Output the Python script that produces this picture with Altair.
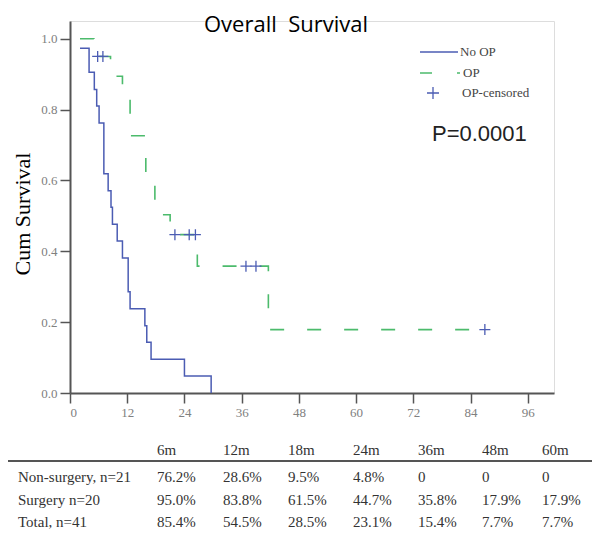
import altair as alt
import pandas as pd

# ---- data ----
noop_t = [2.1, 4.0, 5.1, 5.6, 6.1, 7.1, 8.0, 8.6, 8.9, 9.9, 11.0, 12.2, 12.6, 15.7, 16.1, 17.0, 24.0, 29.6]
noop_s = [0.973, 0.905, 0.857, 0.810, 0.762, 0.619, 0.571, 0.524, 0.476, 0.429, 0.381, 0.286, 0.238, 0.190, 0.143, 0.095, 0.048, 0.0]

op_t = [2.1, 5.0, 8.5, 11.0, 12.6, 15.9, 17.8, 21.0, 26.7, 41.6, 87.0]
op_s = [1.0, 0.95, 0.894, 0.838, 0.726, 0.615, 0.503, 0.447, 0.358, 0.179, 0.179]

cens_t = [5.8, 6.9, 22.0, 25.0, 26.3, 36.9, 39.0, 87.0]
cens_s = [0.95, 0.95, 0.447, 0.447, 0.447, 0.358, 0.358, 0.179]

x_ticks = [0, 12, 24, 36, 48, 60, 72, 84, 96]
y_ticks = [0.0, 0.2, 0.4, 0.6, 0.8, 1.0]

table_header = ["6m", "12m", "18m", "24m", "36m", "48m", "60m"]
table_rows = ["Non-surgery, n=21", "Surgery n=20", "Total, n=41"]
row_nonsurg = ["76.2%", "28.6%", "9.5%", "4.8%", "0", "0", "0"]
row_surg = ["95.0%", "83.8%", "61.5%", "44.7%", "35.8%", "17.9%", "17.9%"]
row_total = ["85.4%", "54.5%", "28.5%", "23.1%", "15.4%", "7.7%", "7.7%"]

BLUE = "#4b5cb3"
GREEN = "#4cbb6c"

# ---- layout (pixel offsets relative to plot origin) ----
W, H = 484, 372
col_x = [87, 153, 218, 283, 348, 412, 472]
label_x = -52
header_y, line_y = 429, 440
row_y = [456, 479, 501]

noop = pd.DataFrame({"t": noop_t, "s": noop_s})
op = pd.DataFrame({"t": op_t, "s": op_s})
cens = pd.DataFrame({"t": cens_t, "s": cens_s})

xscale = alt.Scale(domain=[0, 101.5], nice=False, zero=False)
yscale = alt.Scale(domain=[0, 1.05], nice=False)

axis_common = dict(
    grid=False, tickSize=10, tickColor="#555", tickWidth=1.5,
    domainColor="#555", domainWidth=2, labelFont="Liberation Serif",
    labelFontSize=13, labelColor="#808080", title=None,
)

line_noop = alt.Chart(noop).mark_line(interpolate="step-after", color=BLUE, strokeWidth=1.5).encode(
    x=alt.X("t:Q", scale=xscale, axis=alt.Axis(values=x_ticks, labelPadding=3, **axis_common)),
    y=alt.Y("s:Q", scale=yscale, axis=alt.Axis(values=y_ticks, format=".1f", labelPadding=3, **axis_common)),
)
line_op = alt.Chart(op).mark_line(interpolate="step-after", color=GREEN, strokeWidth=1.6,
                                  strokeDash=[14, 23]).encode(
    x=alt.X("t:Q", scale=xscale), y=alt.Y("s:Q", scale=yscale))
pts = alt.Chart(cens).mark_point(shape="M-1,0L1,0M0,-1L0,1", size=121, filled=False,
                                  color=BLUE, strokeWidth=1.3, opacity=1).encode(
    x=alt.X("t:Q", scale=xscale), y=alt.Y("s:Q", scale=yscale))

one = pd.DataFrame({"a": [0]})

def txt(text, x, y, size, font, color="#000", align="left", angle=0, baseline="middle"):
    kw = dict(text=text, fontSize=size, font=font, color=color, align=align, baseline=baseline)
    if angle:
        kw["angle"] = angle
    return alt.Chart(one).mark_text(**kw).encode(x=alt.value(x), y=alt.value(y))

title = txt("Overall\u00a0 Survival", 216, 11, 22, "Open Sans", align="center", baseline="alphabetic")
ytitle = txt("Cum Survival", -47, 193, 22, "Liberation Serif", align="center", angle=270)
pval = txt("P=0.0001", 362, 113, 22, "Liberation Sans", color="#222")

leg_line1 = alt.Chart(one).mark_rule(color=BLUE, strokeWidth=1.5).encode(
    x=alt.value(350), x2=alt.value(388), y=alt.value(31))
leg_line2 = alt.Chart(one).mark_rule(color=GREEN, strokeWidth=1.6, strokeDash=[12, 25]).encode(
    x=alt.value(350), x2=alt.value(390), y=alt.value(52))
leg_pt = alt.Chart(one).mark_point(shape="M-1,0L1,0M0,-1L0,1", size=144, filled=False,
                                    color=BLUE, strokeWidth=1.3, opacity=1).encode(
    x=alt.value(363), y=alt.value(72))
leg_t1 = txt("No OP", 390, 31, 13, "Liberation Serif", color="#444")
leg_t2 = txt("OP", 393, 52, 13, "Liberation Serif", color="#444")
leg_t3 = txt("OP-censored", 392, 72, 13, "Liberation Serif", color="#444")

# table
recs = []
for i, h in enumerate(table_header):
    recs.append({"txt": h, "px": col_x[i], "py": header_y})
for r, (lab, vals) in enumerate(zip(table_rows, [row_nonsurg, row_surg, row_total])):
    recs.append({"txt": lab, "px": label_x, "py": row_y[r]})
    for i, v in enumerate(vals):
        recs.append({"txt": v, "px": col_x[i], "py": row_y[r]})
tab = pd.DataFrame(recs)
table = alt.Chart(tab).mark_text(align="left", baseline="middle", font="Liberation Serif",
                                 fontSize=15, color="#333").encode(
    x=alt.X("px:Q", scale=None), y=alt.Y("py:Q", scale=None), text="txt:N")
tline = alt.Chart(one).mark_rule(color="#555", strokeWidth=2).encode(
    x=alt.value(-62), x2=alt.value(522), y=alt.value(line_y))

chart = alt.layer(
    line_noop, line_op, pts, title, ytitle, pval,
    leg_line1, leg_line2, leg_pt, leg_t1, leg_t2, leg_t3, table, tline,
).properties(
    width=W, height=H,
    autosize=alt.AutoSizeParams(type="none"),
    padding={"left": 62, "top": 13, "right": 38, "bottom": 137},
).configure_view(stroke=None).configure(background="white")

chart.save("out.html", embed_options={"renderer": "svg", "actions": False})
